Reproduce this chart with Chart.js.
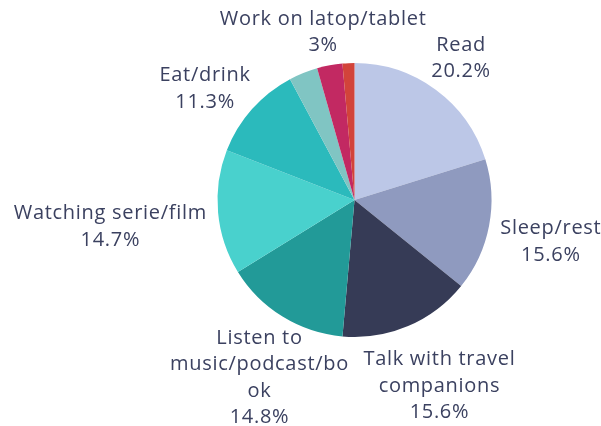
<!DOCTYPE html>
<html>
<head>
<meta charset="utf-8">
<script src="https://cdn.jsdelivr.net/npm/chart.js@4/dist/chart.umd.min.js"></script>
<style>
  html, body { margin: 0; padding: 0; background: #ffffff; }
  #c { display: block; }
</style>
</head>
<body>
<canvas id="c" width="601" height="426"></canvas>
<script>
// How travellers spend their time on the journey (share of answers, %)
const categories = [
  ['Read'],
  ['Sleep/rest'],
  ['Talk with travel', 'companions'],
  ['Listen to', 'music/podcast/bo', 'ok'],
  ['Watching serie/film'],
  ['Eat/drink'],
  [],
  ['Work on latop/tablet'],
  []
];
const shares = [20.2, 15.6, 15.6, 14.8, 14.7, 11.3, 3.4, 3, 1.4];
const sliceColors = ['#bcc7e7', '#8f9abf', '#363b56', '#229a98', '#49d1cd', '#2bbabc', '#80c5c3', '#c22962', '#d2433a'];

// Small hand adjustments for label blocks that would otherwise crowd the pie.
const labelNudge = [[0, 0], [-2, 1], [7, 0], [19, 0], [3, 1], [-7, 12], [0, 0], [2, -2], [0, 0]];

const TEXT_COLOR = '#3b4160';
const FONT = '20px "Open Sans", sans-serif';
const LETTER_SPACING = '0.7px';
const LINE_H = 26.5;
const LABEL_GAP = 15;
const TEXT_SHIFT = 3;
const EDGE_TOP = 5;
const EDGE_BOTTOM = 428;

// Outside labels: each block is pushed out along the slice's mid angle
// until it clears the pie edge, then kept inside the canvas vertically.
const outsideLabels = {
  id: 'outsideLabels',
  afterDatasetsDraw(chart) {
    const ctx = chart.ctx;
    const meta = chart.getDatasetMeta(0);
    ctx.save();
    ctx.font = FONT;
    if ('letterSpacing' in ctx) ctx.letterSpacing = LETTER_SPACING;
    ctx.fillStyle = TEXT_COLOR;
    ctx.textAlign = 'center';
    ctx.textBaseline = 'middle';
    meta.data.forEach((arc, i) => {
      const name = categories[i];
      if (!name.length) return;
      const p = arc.getProps(['x', 'y', 'startAngle', 'endAngle', 'outerRadius'], true);
      const mid = (p.startAngle + p.endAngle) / 2;
      const ux = Math.cos(mid), uy = Math.sin(mid);
      const lines = name.concat([shares[i] + '%']);
      const w = Math.max(...lines.map(l => ctx.measureText(l).width));
      const h = lines.length * LINE_H;
      const d = p.outerRadius + LABEL_GAP + Math.hypot(ux * w / 2, uy * h / 2);
      const cx = p.x + ux * d + labelNudge[i][0];
      let top = p.y + uy * d - h / 2;
      top = Math.max(EDGE_TOP, Math.min(EDGE_BOTTOM - h, top)) + TEXT_SHIFT + labelNudge[i][1];
      lines.forEach((l, k) => {
        ctx.fillText(l, cx, top + LINE_H / 2 + k * LINE_H);
      });
    });
    ctx.restore();
  }
};

new Chart(document.getElementById('c'), {
  type: 'pie',
  data: {
    labels: categories.map(c => c.join(' ')),
    datasets: [{
      data: shares,
      backgroundColor: sliceColors,
      borderWidth: 0
    }]
  },
  options: {
    responsive: false,
    animation: false,
    devicePixelRatio: 1,
    layout: { padding: { top: 63, bottom: 89, left: 217, right: 109 } },
    plugins: {
      legend: { display: false },
      tooltip: { enabled: false }
    }
  },
  plugins: [outsideLabels]
});
</script>
</body>
</html>
